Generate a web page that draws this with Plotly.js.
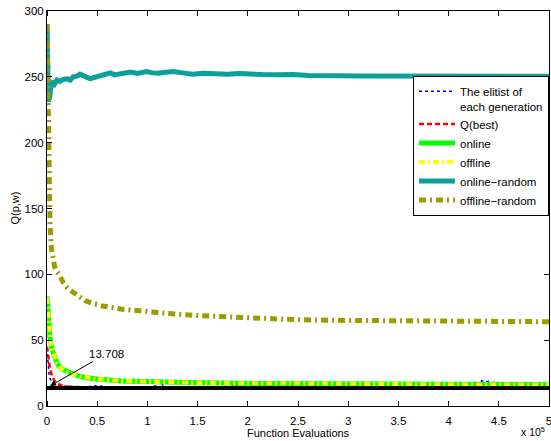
<!DOCTYPE html>
<html>
<head>
<meta charset="utf-8">
<script src="https://cdn.plot.ly/plotly-3.0.1.min.js"></script>
<style>html,body{margin:0;padding:0;background:#fff;}#chart{width:551px;height:441px;}</style>
</head>
<body>
<div id="chart"></div>
<script>
// ---- data ----
const elitistX = [0, 500, 1000, 1500, 2000, 3000, 4000, 5000, 7000, 10000, 15000, 20000, 30000, 40000, 48000, 51000, 54000, 60000, 75000, 90000, 105000, 110000, 113000, 116000, 130000, 150000, 170000, 184000, 187000, 190000, 210000, 222000, 225000, 228000, 250000, 270000, 284000, 287000, 290000, 305000, 315000, 318000, 321000, 340000, 360000, 373000, 376000, 379000, 400000, 420000, 430000, 433000, 436000, 440000, 444000, 448000, 452000, 465000, 468000, 471000, 485000, 500000];
const elitistY = [44, 37, 31, 27, 24, 21, 19, 18, 16.5, 15.6, 15.1, 14.9, 14.7, 14.6, 15.4, 14.7, 15.2, 14.6, 14.5, 14.5, 14.5, 15.6, 18.6, 14.6, 14.5, 14.5, 14.5, 14.6, 17.8, 14.6, 14.5, 14.6, 18.5, 14.6, 14.5, 14.5, 14.6, 16.6, 14.5, 14.5, 14.6, 18.0, 14.6, 14.5, 14.5, 14.6, 16.4, 14.5, 14.5, 14.6, 15.0, 19.2, 18.2, 18.8, 17.6, 18.4, 14.6, 14.5, 17.3, 14.6, 14.5, 14.5];

const bestX = [0, 1000, 2000, 3000, 5000, 7500, 10000, 15000, 20000, 30000, 50000, 100000, 200000, 300000, 400000, 500000];
const bestY = [45, 38, 32, 28, 23, 19, 17, 15.5, 14.8, 14.3, 14.1, 14.0, 13.95, 13.9, 13.9, 13.9];

const onlineX = [0, 1000, 2000, 3000, 5000, 7500, 10000, 15000, 20000, 30000, 40000, 50000, 75000, 100000, 150000, 200000, 250000, 300000, 350000, 400000, 450000, 500000];
const onlineY = [83, 70, 58, 52, 43, 37, 32.5, 28, 26, 23, 21.5, 20.5, 19, 18.3, 17.6, 17.2, 16.9, 16.7, 16.5, 16.4, 16.3, 16.2];

const offlineX = [0, 1000, 2000, 3000, 5000, 7500, 10000, 15000, 20000, 30000, 40000, 50000, 75000, 100000, 150000, 200000, 250000, 300000, 350000, 400000, 450000, 500000];
const offlineY = [82, 69, 58, 52, 43, 37, 32.5, 28, 26, 23, 21.5, 20.5, 19, 18.3, 17.6, 17.2, 16.9, 16.7, 16.5, 16.4, 16.3, 16.2];

const onlineRandomX = [0, 500, 1000, 1500, 2000, 2500, 3000, 4000, 5000, 6000, 8000, 10000, 13000, 16000, 20000, 23000, 26000, 30000, 33000, 38000, 43000, 47000, 50000, 56000, 60000, 63000, 67000, 70000, 76000, 83000, 90000, 95000, 99000, 105000, 111000, 118000, 126000, 135000, 145000, 155000, 165000, 180000, 192000, 202000, 215000, 230000, 245000, 260000, 275000, 290000, 310000, 335000, 355000, 370000, 385000, 401000, 420000, 440000, 460000, 484000, 500000];
const onlineRandomY = [290, 262, 236, 231, 240, 233, 238, 245, 242, 247, 245, 247.6, 246.5, 248, 248.5, 247.5, 250, 250.5, 252, 250.5, 248.5, 249.5, 250, 251, 252.5, 253, 251.5, 252, 253, 253.7, 252.5, 253.5, 254, 253, 252.7, 253.5, 254, 253, 252, 252.8, 252.2, 252, 252.6, 252, 251.7, 251.5, 251.8, 251, 251.3, 250.8, 250.6, 250.6, 250.3, 250.6, 250.4, 251, 250.7, 250.6, 250.9, 250.8, 250.5];

const offlineRandomX = [0, 500, 1000, 1500, 2000, 2500, 3000, 4000, 5500, 7500, 10000, 12000, 16000, 20000, 25000, 30000, 38000, 45000, 55000, 75000, 100000, 125000, 150000, 200000, 250000, 300000, 350000, 400000, 450000, 500000];
const offlineRandomY = [290, 255, 222, 200, 172, 152, 140, 122, 113, 106, 102, 100, 94, 90, 87, 84, 80, 78, 76, 73.5, 71.5, 70, 68.7, 66.8, 65.5, 65, 64.7, 64.5, 64.3, 64];

const optimumX = [0, 500000];
const optimumY = [13.708, 13.708];

const xTickVals = [0, 50000, 100000, 150000, 200000, 250000, 300000, 350000, 400000, 450000, 500000];
const xTickText = ['0', '0.5', '1', '1.5', '2', '2.5', '3', '3.5', '4', '4.5', '5'];
const yTickVals = [0, 50, 100, 150, 200, 250, 300];

const FONT = 'Liberation Sans, Arial, Helvetica, sans-serif';

const traces = [
  {x: elitistX, y: elitistY, name: 'The elitist of<br>each generation', mode: 'lines',
   line: {color: '#0000ff', width: 1.5, dash: 'dot'}},
  {x: bestX, y: bestY, name: 'Q(best)', mode: 'lines',
   line: {color: '#ff0000', width: 2.5, dash: '5px,3px'}},
  {x: onlineX, y: onlineY, name: 'online', mode: 'lines',
   line: {color: '#00ff00', width: 5}},
  {x: offlineX, y: offlineY, name: 'offline', mode: 'lines',
   line: {color: '#ffff00', width: 4, dash: '6px,3px,2px,3px'}},
  {x: onlineRandomX, y: onlineRandomY, name: 'online\u2212random', mode: 'lines',
   line: {color: '#0aa09c', width: 5}},
  {x: offlineRandomX, y: offlineRandomY, name: 'offline\u2212random', mode: 'lines',
   line: {color: '#9c9c00', width: 5, dash: '7px,4px,2px,4px'}},
  {x: optimumX, y: optimumY, name: 'optimum', mode: 'lines', showlegend: false,
   line: {color: '#000000', width: 4}}
];

const layout = {
  width: 551, height: 441,
  margin: {l: 47, r: 2, t: 11, b: 35, pad: 0},
  paper_bgcolor: '#ffffff', plot_bgcolor: '#ffffff',
  font: {family: FONT, size: 11, color: '#000'},
  showlegend: true,
  legend: {
    x: 1, xanchor: 'right', y: 0.835, yanchor: 'top',
    bgcolor: '#ffffff', bordercolor: '#000000', borderwidth: 1,
    font: {family: FONT, size: 11.5, color: '#000'},
    tracegroupgap: 0, valign: 'top', itemwidth: 36
  },
  xaxis: {
    range: [0, 500000], tickmode: 'array', tickvals: xTickVals, ticktext: xTickText,
    showline: true, mirror: 'ticks', linecolor: '#000', linewidth: 1,
    ticks: 'outside', ticklen: 4, tickcolor: 'rgba(255,255,255,0)',
    minor: {tickmode: 'array', tickvals: xTickVals, ticks: 'inside', ticklen: 5, tickcolor: '#000', showgrid: false},
    showgrid: false, zeroline: false, automargin: false, ticklabeloverflow: 'allow',
    tickfont: {family: FONT, size: 11.5, color: '#000'}
  },
  yaxis: {
    range: [0, 300], tickmode: 'array', tickvals: yTickVals,
    showline: true, mirror: 'ticks', linecolor: '#000', linewidth: 1,
    ticks: 'inside', ticklen: 5, tickcolor: '#000', showgrid: false, zeroline: false, automargin: false,
    tickfont: {family: FONT, size: 11.5, color: '#000'}
  },
  annotations: [
    {x: 3000, y: 15.2, xref: 'x', yref: 'y', text: '13.708', showarrow: true,
     arrowhead: 2, arrowsize: 1.2, arrowwidth: 1, arrowcolor: '#000', ax: 56, ay: -32,
     font: {family: FONT, size: 11.5, color: '#000'}},
    {x: 0.5, y: -0.068, xref: 'paper', yref: 'paper', xanchor: 'center', yanchor: 'middle',
     text: 'Function Evaluations', showarrow: false, font: {family: FONT, size: 11, color: '#000'}},
    {x: -0.0657, y: 0.5, xref: 'paper', yref: 'paper', xanchor: 'center', yanchor: 'middle',
     text: 'Q(p,w)', textangle: -90, showarrow: false, font: {family: FONT, size: 11, color: '#000'}},
    {x: 0.997, y: -0.086, xref: 'paper', yref: 'paper', xanchor: 'right', yanchor: 'bottom',
     text: 'x 10<sup>5</sup>', showarrow: false, font: {family: FONT, size: 10.5, color: '#000'}}
  ]
};

Plotly.newPlot('chart', traces, layout, {displayModeBar: false, staticPlot: true});
</script>
</body>
</html>
